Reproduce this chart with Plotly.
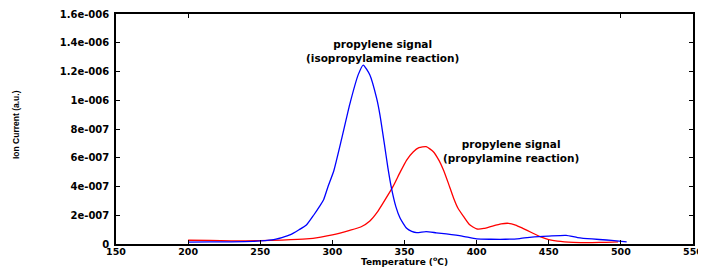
import plotly.graph_objects as go

# Isopropylamine reaction (blue)
t_iso = [200, 215, 230, 245, 258, 265, 271, 277, 282, 287, 291, 294, 297, 301, 306.5,
         312, 318, 321.4, 326, 330.7, 333, 336, 338.5, 341, 344, 347, 351.5, 355, 358.5,
         365, 372, 379, 390, 400, 410, 420, 430, 440, 450, 462, 470, 480, 490, 497, 504]
v_iso = [0.13, 0.15, 0.15, 0.18, 0.28, 0.45, 0.65, 1.0, 1.32, 2.0, 2.6, 3.1, 4.0, 5.1, 7.35,
         9.7, 11.8, 12.45, 11.76, 10.13, 8.97, 7.0, 5.3, 3.87, 2.6, 1.79, 1.09, 0.88, 0.79,
         0.86, 0.78, 0.70, 0.55, 0.35, 0.33, 0.33, 0.38, 0.5, 0.55, 0.6, 0.45, 0.35, 0.28, 0.22, 0.15]

# Propylamine reaction (red)
t_pro = [200, 215, 230, 250, 265, 282, 292, 300, 312, 320, 326, 331, 335, 342, 347, 351.5,
         356, 360, 365, 370, 374, 377, 380.5, 384, 387, 391, 395, 400, 405, 411, 417, 422,
         427, 432, 438, 444, 450, 456, 467, 480, 490, 498]
v_pro = [0.26, 0.25, 0.22, 0.23, 0.27, 0.35, 0.48, 0.63, 0.95, 1.2, 1.6, 2.2, 2.83, 3.99, 5.0, 5.84,
         6.4, 6.7, 6.77, 6.42, 5.8, 5.15, 4.2, 3.2, 2.5, 1.9, 1.35, 1.05, 1.08, 1.25, 1.4, 1.44,
         1.32, 1.09, 0.8, 0.51, 0.3, 0.2, 0.12, 0.1, 0.12, 0.15]

scale = 1e-7
y_tickvals = [0, 2e-7, 4e-7, 6e-7, 8e-7, 1e-6, 1.2e-6, 1.4e-6, 1.6e-6]
y_ticktext = ["0", "2e-007", "4e-007", "6e-007", "8e-007", "1e-006", "1.2e-006", "1.4e-006", "1.6e-006"]
x_tickvals = [150, 200, 250, 300, 350, 400, 450, 500, 550]
x_top_tickvals = [200, 500]

fig = go.Figure()
fig.add_trace(go.Scatter(x=t_pro, y=[v * scale for v in v_pro], mode="lines",
                         line=dict(color="#ff0000", width=1.3, shape="spline", smoothing=0.5),
                         showlegend=False))
fig.add_trace(go.Scatter(x=t_iso, y=[v * scale for v in v_iso], mode="lines",
                         line=dict(color="#0000ff", width=1.3, shape="spline", smoothing=0.5),
                         showlegend=False))

tickfont = dict(family="DejaVu Sans", size=10, color="black", weight="bold")
xtickfont = dict(family="DejaVu Sans", size=9.5, color="black", weight="bold")
fig.update_layout(
    xaxis=dict(range=[150, 550], tickvals=x_tickvals, ticks="inside", ticklen=4,
               showline=True, linecolor="black", linewidth=1.5, mirror=True,
               showgrid=False, zeroline=False, tickfont=xtickfont, tickcolor="black",
               automargin=False, ticklabelstandoff=-2),
    xaxis2=dict(range=[150, 550], tickvals=x_top_tickvals, ticks="inside", ticklen=4,
                overlaying="x", side="top", showticklabels=False, showline=False,
                showgrid=False, zeroline=False, tickcolor="black", automargin=False),
    yaxis=dict(range=[0, 1.6e-6], tickvals=y_tickvals, ticktext=y_ticktext, ticks="inside",
               ticklen=4, showline=True, linecolor="black", linewidth=1.5, mirror="ticks",
               showgrid=False, zeroline=False, tickfont=tickfont, tickcolor="black",
               automargin=False, ticklabelstandoff=3),
)
# invisible helper trace so the top axis is drawn
fig.add_trace(go.Scatter(x=[150], y=[0], xaxis="x2", mode="markers",
                         marker=dict(opacity=0), showlegend=False, hoverinfo="skip"))

ann_font = dict(family="DejaVu Sans", size=10.5, color="black", weight="bold")
fig.add_annotation(x=334.4, y=1.34e-6, xref="x", yref="y", showarrow=False,
                   text="propylene signal<br>(isopropylamine reaction)", font=ann_font,
                   align="center")
fig.add_annotation(x=423.8, y=6.5e-7, xref="x", yref="y", showarrow=False,
                   text="propylene signal<br>(propylamine reaction)", font=ann_font,
                   align="center")
fig.add_annotation(x=0.5, y=0, xref="paper", yref="paper", yshift=-17,
                   xanchor="center", yanchor="middle", showarrow=False,
                   text="Temperature (<sup>o</sup>C)", font=dict(family="DejaVu Sans", size=9,
                                                                color="black", weight="bold"))
fig.add_annotation(x=0, y=0.5, xref="paper", yref="paper", xshift=-100, yshift=4,
                   xanchor="center", yanchor="middle", showarrow=False,
                   textangle=-90, text="Ion Current (a.u.)",
                   font=dict(family="Liberation Sans", size=8.5, color="black", weight="bold"))

fig.update_layout(width=698, height=259,
                  margin=dict(l=108, r=13, t=6, b=23, autoexpand=False),
                  plot_bgcolor="white", paper_bgcolor="white")
fig.write_html("out.html")
